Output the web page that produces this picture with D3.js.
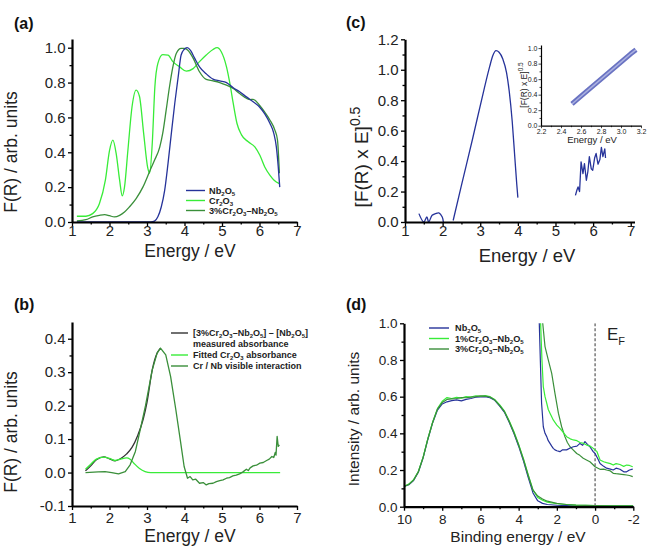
<!DOCTYPE html>
<html>
<head>
<meta charset="utf-8">
<script src="https://cdn.jsdelivr.net/npm/d3@7"></script>
<style>
  body { margin: 0; background: #fff; }
  svg { display: block; font-family: Arial, "Liberation Sans", sans-serif; }
</style>
</head>
<body>
<svg id="fig" width="648" height="546"></svg>
<script>
// ---------- colours ----------
const BLUE = "#26339a", LGREEN = "#38ec38", DGREEN = "#3a8f3a", BLACK = "#333";

// ---------- (a) diffuse reflectance ----------
const aNbE  = [1.13, 3.1, 3.2, 3.29, 3.38, 3.47, 3.56, 3.65, 3.74, 3.83, 3.91, 3.99, 4.07, 4.16, 4.27, 4.4, 4.58, 4.76, 4.94, 5.12, 5.3, 5.47, 5.65, 5.83, 6.0, 6.14, 6.28, 6.38, 6.45, 6.5, 6.54];
const aNbF  = [0, 0, 0.005, 0.03, 0.086, 0.18, 0.335, 0.51, 0.68, 0.83, 0.958, 0.99, 1.0, 0.985, 0.94, 0.89, 0.85, 0.82, 0.81, 0.8, 0.77, 0.747, 0.718, 0.69, 0.66, 0.62, 0.565, 0.51, 0.43, 0.316, 0.2];
const aCrE  = [1.13, 1.37, 1.55, 1.73, 1.89, 2.0, 2.09, 2.18, 2.27, 2.34, 2.4, 2.49, 2.6, 2.71, 2.8, 2.91, 3.02, 3.07, 3.14, 3.21, 3.29, 3.42, 3.56, 3.69, 3.87, 4.05, 4.23, 4.4, 4.58, 4.76, 4.87, 4.98, 5.12, 5.21, 5.3, 5.4, 5.52, 5.7, 5.88, 6.01, 6.14, 6.28, 6.39, 6.53];
const aCrF  = [0.033, 0.033, 0.048, 0.105, 0.24, 0.41, 0.47, 0.39, 0.24, 0.15, 0.2, 0.41, 0.66, 0.757, 0.72, 0.51, 0.31, 0.28, 0.45, 0.776, 0.91, 0.96, 0.958, 0.92, 0.89, 0.866, 0.88, 0.92, 0.958, 0.99, 1.0, 0.977, 0.89, 0.795, 0.68, 0.565, 0.5, 0.46, 0.43, 0.383, 0.316, 0.268, 0.24, 0.22];
const aMixE = [1.13, 1.37, 1.55, 1.73, 1.87, 2.0, 2.13, 2.27, 2.4, 2.53, 2.71, 2.89, 3.07, 3.2, 3.34, 3.42, 3.51, 3.6, 3.69, 3.78, 3.91, 4.0, 4.09, 4.23, 4.4, 4.58, 4.76, 4.94, 5.12, 5.3, 5.47, 5.65, 5.75, 5.83, 6.0, 6.14, 6.28, 6.41, 6.48, 6.53];
const aMixF = [0.006, 0.013, 0.029, 0.038, 0.042, 0.036, 0.029, 0.038, 0.057, 0.086, 0.134, 0.2, 0.29, 0.354, 0.43, 0.51, 0.64, 0.776, 0.89, 0.967, 0.996, 0.996, 0.985, 0.94, 0.862, 0.818, 0.81, 0.8, 0.785, 0.766, 0.737, 0.71, 0.702, 0.704, 0.67, 0.63, 0.584, 0.527, 0.47, 0.28];

// ---------- (b) difference spectra ----------
const bMeasE = [1.36, 1.5, 1.65, 1.85, 2.0, 2.15, 2.3, 2.45, 2.6, 2.75, 2.9, 3.0, 3.14, 3.27, 3.36];
const bMeasF = [0.005, 0.02, 0.038, 0.047, 0.041, 0.035, 0.042, 0.055, 0.075, 0.11, 0.16, 0.21, 0.307, 0.357, 0.372];
const bFitE  = [1.36, 1.5, 1.65, 1.85, 2.0, 2.15, 2.3, 2.45, 2.55, 2.65, 2.8, 2.95, 3.1, 6.55];
const bFitF  = [0.01, 0.025, 0.04, 0.046, 0.042, 0.036, 0.04, 0.044, 0.04, 0.028, 0.012, 0.003, 0, 0];
const bIntE  = [1.36, 1.7, 1.88, 2.06, 2.24, 2.42, 2.55, 2.69, 2.82, 2.96, 3.14, 3.27, 3.36, 3.5, 3.63, 3.77, 3.9, 3.99, 4.08, 4.15, 4.22, 4.3, 4.4, 4.5, 4.58, 4.65, 4.76, 4.85, 4.94, 5.03, 5.12, 5.2, 5.29, 5.38, 5.47, 5.56, 5.65, 5.7, 5.75, 5.83, 5.92, 6.01, 6.1, 6.19, 6.26, 6.33, 6.38, 6.42, 6.44, 6.47, 6.5, 6.53];
const bIntF  = [0, 0.002, 0.003, 0, -0.004, 0.003, 0.023, 0.063, 0.128, 0.2, 0.307, 0.357, 0.372, 0.352, 0.287, 0.187, 0.088, 0.018, -0.017, -0.012, -0.022, -0.02, -0.032, -0.03, -0.037, -0.033, -0.032, -0.027, -0.024, -0.022, -0.017, -0.015, -0.01, -0.008, -0.004, 0.002, 0.01, 0.006, 0.014, 0.02, 0.022, 0.028, 0.03, 0.036, 0.04, 0.048, 0.045, 0.06, 0.052, 0.108, 0.078, 0.083];

// ---------- (c) Tauc plot + inset ----------
const cLowE  = [1.37, 1.5, 1.58, 1.63, 1.72, 1.81, 1.9, 1.99, 2.02];
const cLowV  = [0.055, 0, 0.033, 0, 0.044, 0.055, 0.06, 0.033, 0];
const cMainE = [2.28, 2.5, 2.8, 3.1, 3.25, 3.33, 3.42, 3.5, 3.6, 3.7, 3.77, 3.85, 3.92, 3.97, 4.0];
const cMainV = [0.01, 0.24, 0.55, 0.87, 1.02, 1.09, 1.125, 1.115, 1.07, 0.98, 0.86, 0.66, 0.42, 0.25, 0.16];
const cHighE = [5.53, 5.57, 5.6, 5.64, 5.68, 5.73, 5.77, 5.82, 5.86, 5.9, 5.95, 5.99, 6.04, 6.08, 6.13, 6.18, 6.22, 6.26, 6.31, 6.33];
const cHighV = [0.175, 0.21, 0.23, 0.2, 0.395, 0.318, 0.384, 0.274, 0.33, 0.43, 0.35, 0.34, 0.42, 0.45, 0.38, 0.41, 0.49, 0.43, 0.48, 0.42];
const insetE = [2.51, 2.6, 2.7, 2.8, 2.9, 3.0, 3.1, 3.15];
const insetV = [0.28, 0.38, 0.49, 0.6, 0.71, 0.82, 0.93, 0.98];

// ---------- (d) valence band XPS ----------
const dBE    = [10, 9.75, 9.5, 9.25, 9.0, 8.75, 8.5, 8.25, 8.0, 7.75, 7.5, 7.25, 7.0, 6.75, 6.5, 6.25, 6.0, 5.75, 5.5, 5.25, 5.0, 4.75, 4.5, 4.25, 4.0, 3.75, 3.5, 3.25, 3.0, 2.75, 2.5, 2.0, 1.5, 1.0, 0, -1, -2];
const dNbLow = [0.11, 0.12, 0.143, 0.188, 0.266, 0.368, 0.458, 0.527, 0.56, 0.572, 0.578, 0.582, 0.577, 0.585, 0.59, 0.597, 0.599, 0.6, 0.594, 0.58, 0.55, 0.516, 0.462, 0.4, 0.33, 0.25, 0.16, 0.075, 0.032, 0.018, 0.012, 0.008, 0.006, 0.005, 0.004, 0.003, 0.003];
const d1Low  = [0.11, 0.123, 0.147, 0.192, 0.27, 0.372, 0.462, 0.535, 0.575, 0.595, 0.59, 0.596, 0.592, 0.6, 0.598, 0.605, 0.602, 0.606, 0.6, 0.584, 0.556, 0.522, 0.47, 0.41, 0.34, 0.262, 0.175, 0.092, 0.05, 0.035, 0.025, 0.016, 0.012, 0.009, 0.006, 0.005, 0.005];
const d3Low  = [0.11, 0.121, 0.145, 0.19, 0.268, 0.37, 0.46, 0.532, 0.568, 0.585, 0.588, 0.59, 0.595, 0.594, 0.597, 0.6, 0.604, 0.603, 0.598, 0.582, 0.553, 0.52, 0.466, 0.405, 0.336, 0.258, 0.17, 0.09, 0.058, 0.042, 0.03, 0.018, 0.012, 0.009, 0.006, 0.005, 0.005];
const dNbHiE = [2.95, 2.92, 2.85, 2.8, 2.71, 2.62, 2.53, 2.45, 2.36, 2.27, 2.19, 2.1, 2.0, 1.84, 1.7, 1.49, 1.3, 1.14, 0.95, 0.79, 0.65, 0.53, 0.4, 0.27, 0.1, 0.0, -0.15, -0.26, -0.45, -0.6, -0.8, -0.95, -1.1, -1.3, -1.5, -1.65, -1.8, -1.97];
const dNbHiV = [1.2, 1.0, 0.745, 0.564, 0.436, 0.4, 0.382, 0.36, 0.345, 0.33, 0.318, 0.31, 0.305, 0.3, 0.31, 0.31, 0.32, 0.327, 0.33, 0.345, 0.335, 0.355, 0.34, 0.327, 0.3, 0.29, 0.26, 0.236, 0.22, 0.21, 0.205, 0.2, 0.21, 0.204, 0.19, 0.19, 0.2, 0.205];
const d1HiE  = [2.9, 2.85, 2.78, 2.71, 2.62, 2.53, 2.45, 2.36, 2.27, 2.19, 2.1, 2.0, 1.84, 1.7, 1.49, 1.3, 1.14, 0.95, 0.79, 0.6, 0.44, 0.25, 0.09, -0.1, -0.26, -0.45, -0.6, -0.8, -0.95, -1.1, -1.3, -1.5, -1.65, -1.8, -1.97];
const d1HiV  = [1.2, 1.0, 0.8, 0.655, 0.6, 0.564, 0.53, 0.51, 0.49, 0.473, 0.46, 0.445, 0.427, 0.41, 0.382, 0.37, 0.364, 0.36, 0.35, 0.345, 0.336, 0.33, 0.318, 0.3, 0.255, 0.245, 0.24, 0.235, 0.227, 0.235, 0.23, 0.22, 0.227, 0.225, 0.218];
const d3HiE  = [2.8, 2.74, 2.62, 2.45, 2.27, 2.1, 1.92, 1.75, 1.58, 1.45, 1.31, 1.15, 0.96, 0.8, 0.62, 0.45, 0.27, 0.12, 0.0, -0.15, -0.26, -0.45, -0.6, -0.8, -0.95, -1.1, -1.3, -1.5, -1.65, -1.8, -1.97];
const d3HiV  = [1.2, 1.0, 0.873, 0.8, 0.727, 0.618, 0.51, 0.436, 0.382, 0.35, 0.327, 0.31, 0.29, 0.28, 0.264, 0.255, 0.245, 0.23, 0.218, 0.21, 0.204, 0.205, 0.2, 0.195, 0.182, 0.18, 0.178, 0.175, 0.173, 0.17, 0.164];

// ---------- tick values ----------
const eTicks   = [1, 2, 3, 4, 5, 6, 7];
const eMinor   = [1.5, 2.5, 3.5, 4.5, 5.5, 6.5];
const fTicksA  = [0, 0.2, 0.4, 0.6, 0.8, 1.0];
const fMinorA  = [0.1, 0.3, 0.5, 0.7, 0.9];
const fTicksB  = [-0.1, 0, 0.1, 0.2, 0.3, 0.4];
const fMinorB  = [-0.05, 0.05, 0.15, 0.25, 0.35];
const tTicksC  = [0, 0.2, 0.4, 0.6, 0.8, 1.0, 1.2];
const tMinorC  = [0.1, 0.3, 0.5, 0.7, 0.9, 1.1];
const beTicks  = [10, 8, 6, 4, 2, 0, -2];
const beMinor  = [9, 7, 5, 3, 1, -1];
const inXTicks = [2.2, 2.4, 2.6, 2.8, 3.0, 3.2];
const inXMinor = [2.3, 2.5, 2.7, 2.9, 3.1];
const inYTicks = [0, 0.2, 0.4, 0.6, 0.8, 1.0];
const inYMinor = [0.1, 0.3, 0.5, 0.7, 0.9];

const svg = d3.select("#fig");
const fmt1 = d => d.toFixed(1);
const fmt0 = d => String(d);

// text with chemical subscripts written as "_2"
function chem(sel, str, size) {
  let down = false;
  str.split(/(_\d)/).forEach(p => {
    if (!p) return;
    const sub = p[0] === "_";
    const t = sel.append("tspan").text(sub ? p.slice(1) : p);
    if (sub) { t.attr("font-size", size * 0.66); if (!down) t.attr("dy", size * 0.22); down = true; }
    else if (down) { t.attr("dy", -size * 0.22); down = false; }
  });
}

function panel(p) {
  const x = d3.scaleLinear().domain(p.xDom).range(p.xRange);
  const y = d3.scaleLinear().domain(p.yDom).range(p.yRange);
  const g = svg.append("g");
  const sw = p.axisWidth || 2.2;

  svg.append("clipPath").attr("id", "clip-" + p.name).append("rect")
    .attr("x", p.xRange[0]).attr("y", p.yRange[1])
    .attr("width", p.xRange[1] - p.xRange[0]).attr("height", p.yRange[0] - p.yRange[1]);
  const plot = g.append("g").attr("clip-path", `url(#clip-${p.name})`);

  // minor ticks first, then major ticks with labels
  const xg = g.append("g").attr("transform", `translate(0,${p.yRange[0]})`);
  xg.append("g").call(d3.axisBottom(x).tickValues(p.xMinor).tickSize(p.minor || 2.5).tickFormat(""))
    .call(s => s.select(".domain").remove());
  xg.append("g").call(d3.axisBottom(x).tickValues(p.xTicks).tickSize(p.major || 4).tickSizeOuter(0)
      .tickPadding(p.xPad).tickFormat(p.xFmt))
    .attr("font-size", p.tickFont).attr("font-family", null);

  const yg = g.append("g").attr("transform", `translate(${p.xRange[0]},0)`);
  yg.append("g").call(d3.axisLeft(y).tickValues(p.yMinor).tickSize(p.minor || 2.5).tickFormat(""))
    .call(s => s.select(".domain").remove());
  yg.append("g").call(d3.axisLeft(y).tickValues(p.yTicks).tickSize(p.major || 4).tickSizeOuter(0)
      .tickPadding(p.yPad).tickFormat(p.yFmt))
    .attr("font-size", p.tickFont).attr("font-family", null);

  g.selectAll(".domain").attr("stroke-width", sw);
  g.selectAll(".tick line").attr("stroke-width", sw * 0.6);
  g.selectAll(".tick text").attr("fill", "#222");

  if (p.xTitle) {
    g.append("text").attr("x", p.xTitle[0]).attr("y", p.xTitle[1]).attr("text-anchor", "middle")
      .attr("font-size", p.titleFont).attr("fill", "#222").text(p.xTitleText);
  }
  return { x, y, g, plot };
}

function series(pl, xs, ys, color, width, curve) {
  pl.plot.append("path")
    .datum(d3.zip(xs, ys))
    .attr("fill", "none").attr("stroke", color).attr("stroke-width", width || 1.3)
    .attr("stroke-linejoin", "round")
    .attr("d", d3.line().x(d => pl.x(d[0])).y(d => pl.y(d[1])).curve(curve || d3.curveMonotoneX));
}

function legend(items, x0, x1, tx, ys, size) {
  items.forEach((it, i) => {
    if (it.color) {
      svg.append("line").attr("x1", x0).attr("x2", x1).attr("y1", ys[i]).attr("y2", ys[i])
        .attr("stroke", it.color).attr("stroke-width", 1.4);
    }
    const t = svg.append("text").attr("x", tx).attr("y", ys[i] + size * 0.33)
      .attr("font-size", size).attr("font-weight", "bold").attr("fill", "#222");
    chem(t, it.label, size);
  });
}

function yTitle(x, y, size, build) {
  const t = svg.append("text").attr("transform", `translate(${x},${y}) rotate(-90)`)
    .attr("text-anchor", "middle").attr("font-size", size).attr("fill", "#222");
  build(t);
}

function letter(x, y, s) {
  svg.append("text").attr("x", x).attr("y", y).attr("font-size", 16).attr("font-weight", "bold")
    .attr("fill", "#111").text(s);
}

// ===== (a) =====
const pa = panel({
  name: "a", xDom: [1, 7], xRange: [72, 297], yDom: [0, 1.05], yRange: [222, 39],
  xTicks: eTicks, xMinor: eMinor, yTicks: fTicksA, yMinor: fMinorA,
  xFmt: fmt0, yFmt: fmt1, tickFont: 15, titleFont: 17.5, xPad: -1, yPad: 2.5,
  xTitle: [190, 257], xTitleText: "Energy / eV"
});
series(pa, aCrE, aCrF, LGREEN);
series(pa, aMixE, aMixF, DGREEN);
series(pa, aNbE, aNbF, BLUE);
legend([{ color: BLUE, label: "Nb_2O_5" }, { color: LGREEN, label: "Cr_2O_3" }, { color: DGREEN, label: "3%Cr_2O_3–Nb_2O_5" }],
  186, 205, 209, [190.5, 200.5, 210.5], 9.2);
yTitle(17, 152, 17.5, t => t.text("F(R) / arb. units"));
letter(14, 29, "(a)");

// ===== (b) =====
const pb = panel({
  name: "b", xDom: [1, 7], xRange: [72, 297], yDom: [-0.1, 0.45], yRange: [506, 322],
  xTicks: eTicks, xMinor: eMinor, yTicks: fTicksB, yMinor: fMinorB,
  xFmt: fmt0, yFmt: fmt1, tickFont: 15, titleFont: 17.5, xPad: 2, yPad: 2.5,
  xTitle: [190, 542], xTitleText: "Energy / eV"
});
series(pb, bMeasE, bMeasF, BLACK);
series(pb, bFitE, bFitF, LGREEN);
series(pb, bIntE, bIntF, DGREEN, 1.3, d3.curveLinear);
legend([{ color: BLACK, label: "[3%Cr_2O_3–Nb_2O_5] – [Nb_2O_5]" }, { label: "measured absorbance" },
        { color: LGREEN, label: "Fitted Cr_2O_3 absorbance" }, { color: DGREEN, label: "Cr / Nb visible interaction" }],
  171, 188, 193, [333, 344, 355, 366], 9.0);
yTitle(17, 432, 17.5, t => t.text("F(R) / arb. units"));
letter(14, 310, "(b)");

// ===== (c) =====
const pc = panel({
  name: "c", xDom: [1, 7.1], xRange: [405, 634.5], yDom: [0, 1.2], yRange: [222, 39.3],
  xTicks: eTicks, xMinor: eMinor, yTicks: tTicksC, yMinor: tMinorC,
  xFmt: fmt0, yFmt: fmt1, tickFont: 15, titleFont: 18.5, xPad: -1, yPad: 2.5,
  xTitle: [527, 262], xTitleText: "Energy / eV"
});
series(pc, cLowE, cLowV, BLUE, 1.3, d3.curveCatmullRom);
series(pc, cMainE, cMainV, BLUE);
series(pc, cHighE, cHighV, BLUE, 1.3, d3.curveLinear);
yTitle(368, 157, 19, t => {
  t.append("tspan").text("[F(R) x E]");
  t.append("tspan").attr("font-size", 14).attr("dy", -8).text("0.5");
});
letter(346, 28, "(c)");

// inset
const pi = panel({
  name: "i", xDom: [2.2, 3.2], xRange: [541, 641], yDom: [0, 1.04], yRange: [125.7, 45],
  xTicks: inXTicks, xMinor: inXMinor, yTicks: inYTicks, yMinor: inYMinor,
  xFmt: fmt1, yFmt: fmt1, tickFont: 7, titleFont: 9.5, xPad: 1, yPad: 1,
  major: 2.5, minor: 1.5, axisWidth: 1.2,
  xTitle: [592, 143], xTitleText: "Energy / eV"
});
series(pi, insetE, insetV, "#6a73c2", 5, d3.curveLinear);
series(pi, insetE, insetV, "#aab0e0", 1.5, d3.curveLinear);
yTitle(527, 85, 8.5, t => {
  t.append("tspan").text("[F(R) x E]");
  t.append("tspan").attr("font-size", 6.5).attr("dy", -4).text("0.5");
});

// ===== (d) =====
const pd = panel({
  name: "d", xDom: [10, -2], xRange: [404, 633.3], yDom: [0, 1.0], yRange: [506.7, 323.3],
  xTicks: beTicks, xMinor: beMinor, yTicks: fTicksA, yMinor: fMinorA,
  xFmt: fmt0, yFmt: fmt1, tickFont: 13.5, titleFont: 15.5, xPad: 4, yPad: 2.5,
  xTitle: [518, 542], xTitleText: "Binding energy / eV"
});
pd.plot.append("line").attr("x1", pd.x(0)).attr("x2", pd.x(0)).attr("y1", pd.y(1)).attr("y2", pd.y(0))
  .attr("stroke", "#555").attr("stroke-width", 1.2).attr("stroke-dasharray", "3,2");
series(pd, dBE, dNbLow, BLUE, 1.2, d3.curveLinear);
series(pd, dBE, d1Low, LGREEN, 1.2, d3.curveLinear);
series(pd, dBE, d3Low, DGREEN, 1.2, d3.curveLinear);
series(pd, d3HiE, d3HiV, DGREEN, 1.2, d3.curveLinear);
series(pd, dNbHiE, dNbHiV, BLUE, 1.2, d3.curveLinear);
series(pd, d1HiE, d1HiV, LGREEN, 1.2, d3.curveLinear);
legend([{ color: BLUE, label: "Nb_2O_5" }, { color: LGREEN, label: "1%Cr_2O_3–Nb_2O_5" }, { color: DGREEN, label: "3%Cr_2O_3–Nb_2O_5" }],
  429, 449, 455, [328, 338.5, 349], 9.2);
yTitle(359, 419, 15.5, t => t.text("Intensity / arb. units"));
const ef = svg.append("text").attr("x", 607).attr("y", 340).attr("font-size", 17).attr("fill", "#222");
ef.append("tspan").text("E");
ef.append("tspan").attr("font-size", 11).attr("dy", 5).text("F");
letter(346, 310, "(d)");
</script>
</body>
</html>
